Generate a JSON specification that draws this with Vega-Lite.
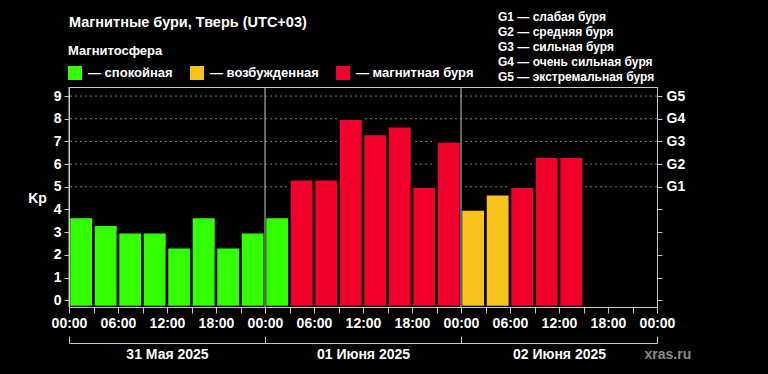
{
  "$schema": "https://vega.github.io/schema/vega-lite/v6.json",
  "width": 588,
  "height": 220,
  "autosize": {"type": "none"},
  "padding": {"left": 69, "top": 87, "right": 111, "bottom": 67},
  "background": "#000000",
  "title": {
    "text": "Магнитные бури, Тверь (UTC+03)",
    "anchor": "start",
    "frame": "group",
    "baseline": "middle",
    "color": "#ffffff",
    "fontSize": 14.5,
    "fontWeight": "bold",
    "font": "Liberation Sans",
    "offset": -26
  },
  "config": {
    "font": "Liberation Sans",
    "view": {"stroke": "#c8c8c8", "strokeWidth": 1}
  },
  "datasets": {
    "kp": [
      {"start": "2025-05-31T00:00:00Z", "end": "2025-05-31T03:00:00Z", "kp": 3.67, "state": "спокойная"},
      {"start": "2025-05-31T03:00:00Z", "end": "2025-05-31T06:00:00Z", "kp": 3.33, "state": "спокойная"},
      {"start": "2025-05-31T06:00:00Z", "end": "2025-05-31T09:00:00Z", "kp": 3.0, "state": "спокойная"},
      {"start": "2025-05-31T09:00:00Z", "end": "2025-05-31T12:00:00Z", "kp": 3.0, "state": "спокойная"},
      {"start": "2025-05-31T12:00:00Z", "end": "2025-05-31T15:00:00Z", "kp": 2.33, "state": "спокойная"},
      {"start": "2025-05-31T15:00:00Z", "end": "2025-05-31T18:00:00Z", "kp": 3.67, "state": "спокойная"},
      {"start": "2025-05-31T18:00:00Z", "end": "2025-05-31T21:00:00Z", "kp": 2.33, "state": "спокойная"},
      {"start": "2025-05-31T21:00:00Z", "end": "2025-06-01T00:00:00Z", "kp": 3.0, "state": "спокойная"},
      {"start": "2025-06-01T00:00:00Z", "end": "2025-06-01T03:00:00Z", "kp": 3.67, "state": "спокойная"},
      {"start": "2025-06-01T03:00:00Z", "end": "2025-06-01T06:00:00Z", "kp": 5.33, "state": "магнитная буря"},
      {"start": "2025-06-01T06:00:00Z", "end": "2025-06-01T09:00:00Z", "kp": 5.33, "state": "магнитная буря"},
      {"start": "2025-06-01T09:00:00Z", "end": "2025-06-01T12:00:00Z", "kp": 8.0, "state": "магнитная буря"},
      {"start": "2025-06-01T12:00:00Z", "end": "2025-06-01T15:00:00Z", "kp": 7.33, "state": "магнитная буря"},
      {"start": "2025-06-01T15:00:00Z", "end": "2025-06-01T18:00:00Z", "kp": 7.67, "state": "магнитная буря"},
      {"start": "2025-06-01T18:00:00Z", "end": "2025-06-01T21:00:00Z", "kp": 5.0, "state": "магнитная буря"},
      {"start": "2025-06-01T21:00:00Z", "end": "2025-06-02T00:00:00Z", "kp": 7.0, "state": "магнитная буря"},
      {"start": "2025-06-02T00:00:00Z", "end": "2025-06-02T03:00:00Z", "kp": 4.0, "state": "возбужденная"},
      {"start": "2025-06-02T03:00:00Z", "end": "2025-06-02T06:00:00Z", "kp": 4.67, "state": "возбужденная"},
      {"start": "2025-06-02T06:00:00Z", "end": "2025-06-02T09:00:00Z", "kp": 5.0, "state": "магнитная буря"},
      {"start": "2025-06-02T09:00:00Z", "end": "2025-06-02T12:00:00Z", "kp": 6.33, "state": "магнитная буря"},
      {"start": "2025-06-02T12:00:00Z", "end": "2025-06-02T15:00:00Z", "kp": 6.33, "state": "магнитная буря"}
    ],
    "levels": [
      {"kp": 5, "label": "G1 — слабая буря"},
      {"kp": 6, "label": "G2 — средняя буря"},
      {"kp": 7, "label": "G3 — сильная буря"},
      {"kp": 8, "label": "G4 — очень сильная буря"},
      {"kp": 9, "label": "G5 — экстремальная буря"}
    ],
    "days": [
      {"start": "2025-05-31T00:00:00Z", "day": "31 Мая 2025"},
      {"start": "2025-06-01T00:00:00Z", "day": "01 Июня 2025"},
      {"start": "2025-06-02T00:00:00Z", "day": "02 Июня 2025"}
    ]
  },
  "layer": [
    {
      "data": {"name": "levels"},
      "mark": {"type": "rule", "color": "#7a7a7a", "strokeWidth": 1},
      "encoding": {
        "y": {
          "field": "kp",
          "type": "quantitative",
          "scale": {"domain": [-0.3, 9.4], "nice": false, "zero": false},
          "axis": {
            "orient": "right",
            "values": [0, 1, 2, 3, 4, 5, 6, 7, 8, 9],
            "labelExpr": "datum.value >= 5 ? 'G' + (datum.value - 4) : ''",
            "grid": false,
            "title": null,
            "tickSize": 5,
            "labelPadding": 4,
            "labelColor": "#ffffff",
            "labelFontSize": 14,
            "labelFontWeight": "bold",
            "domainColor": "#c8c8c8",
            "tickColor": "#c8c8c8",
            "zindex": 1
          }
        },
        "strokeDash": {
          "field": "label",
          "type": "nominal",
          "scale": {"range": [[2, 3], [2, 3], [2, 3], [2, 3], [2, 3]]},
          "legend": {
            "orient": "none",
            "legendX": 417,
            "legendY": -76,
            "direction": "vertical",
            "title": null,
            "symbolOpacity": 0,
            "symbolSize": 4,
            "labelOffset": 0,
            "labelColor": "#ffffff",
            "labelFontSize": 12,
            "labelFontWeight": "bold",
            "labelLimit": 300,
            "rowPadding": 3
          }
        }
      }
    },
    {
      "data": {"name": "kp"},
      "mark": {"type": "bar", "stroke": "#000000", "strokeWidth": 2.5},
      "encoding": {
        "x": {
          "field": "start",
          "type": "temporal",
          "scale": {
            "type": "utc",
            "domain": [
              {"year": 2025, "month": 5, "date": 31, "utc": true},
              {"year": 2025, "month": 6, "date": 3, "utc": true}
            ]
          },
          "axis": {
            "orient": "bottom",
            "values": [
              {"year": 2025, "month": 5, "date": 31, "hours": 0, "utc": true},
              {"year": 2025, "month": 5, "date": 31, "hours": 3, "utc": true},
              {"year": 2025, "month": 5, "date": 31, "hours": 6, "utc": true},
              {"year": 2025, "month": 5, "date": 31, "hours": 9, "utc": true},
              {"year": 2025, "month": 5, "date": 31, "hours": 12, "utc": true},
              {"year": 2025, "month": 5, "date": 31, "hours": 15, "utc": true},
              {"year": 2025, "month": 5, "date": 31, "hours": 18, "utc": true},
              {"year": 2025, "month": 5, "date": 31, "hours": 21, "utc": true},
              {"year": 2025, "month": 6, "date": 1, "hours": 0, "utc": true},
              {"year": 2025, "month": 6, "date": 1, "hours": 3, "utc": true},
              {"year": 2025, "month": 6, "date": 1, "hours": 6, "utc": true},
              {"year": 2025, "month": 6, "date": 1, "hours": 9, "utc": true},
              {"year": 2025, "month": 6, "date": 1, "hours": 12, "utc": true},
              {"year": 2025, "month": 6, "date": 1, "hours": 15, "utc": true},
              {"year": 2025, "month": 6, "date": 1, "hours": 18, "utc": true},
              {"year": 2025, "month": 6, "date": 1, "hours": 21, "utc": true},
              {"year": 2025, "month": 6, "date": 2, "hours": 0, "utc": true},
              {"year": 2025, "month": 6, "date": 2, "hours": 3, "utc": true},
              {"year": 2025, "month": 6, "date": 2, "hours": 6, "utc": true},
              {"year": 2025, "month": 6, "date": 2, "hours": 9, "utc": true},
              {"year": 2025, "month": 6, "date": 2, "hours": 12, "utc": true},
              {"year": 2025, "month": 6, "date": 2, "hours": 15, "utc": true},
              {"year": 2025, "month": 6, "date": 2, "hours": 18, "utc": true},
              {"year": 2025, "month": 6, "date": 2, "hours": 21, "utc": true},
              {"year": 2025, "month": 6, "date": 3, "hours": 0, "utc": true}
            ],
            "labelExpr": "utchours(datum.value) % 6 == 0 ? utcFormat(datum.value, '%H:%M') : ''",
            "labelFlush": false,
            "labelOverlap": false,
            "tickSize": 6,
            "labelPadding": 3,
            "labelColor": "#ffffff",
            "labelFontSize": 14,
            "labelFontWeight": "bold",
            "domainColor": "#c8c8c8",
            "tickColor": "#c8c8c8",
            "grid": false,
            "title": null,
            "zindex": 1
          }
        },
        "x2": {"field": "end"},
        "y": {
          "field": "kp",
          "type": "quantitative",
          "scale": {"domain": [-0.3, 9.4], "nice": false, "zero": false},
          "axis": {
            "orient": "left",
            "values": [0, 1, 2, 3, 4, 5, 6, 7, 8, 9],
            "title": "Kp",
            "titleAngle": 0,
            "titleX": -32,
            "titleY": 111,
            "titleAlign": "center",
            "titleBaseline": "middle",
            "titleColor": "#ffffff",
            "titleFontSize": 14,
            "titleFontWeight": "bold",
            "labelColor": "#ffffff",
            "labelFontSize": 14,
            "labelFontWeight": "bold",
            "tickSize": 5,
            "labelPadding": 3,
            "grid": false,
            "domainColor": "#c8c8c8",
            "tickColor": "#c8c8c8",
            "zindex": 1
          }
        },
        "y2": {"datum": -0.3},
        "color": {
          "field": "state",
          "type": "nominal",
          "scale": {
            "domain": ["спокойная", "возбужденная", "магнитная буря"],
            "range": ["#33ff00", "#f7c21b", "#f0002a"]
          },
          "legend": {
            "orient": "none",
            "legendX": -1,
            "legendY": -42,
            "direction": "horizontal",
            "title": "Магнитосфера",
            "titleColor": "#ffffff",
            "titleFontSize": 13,
            "titleFontWeight": "bold",
            "titlePadding": 8,
            "symbolType": "square",
            "symbolSize": 196,
            "symbolStrokeWidth": 0,
            "symbolOpacity": 1,
            "labelExpr": "'— ' + datum.label",
            "labelColor": "#ffffff",
            "labelFontSize": 13,
            "labelFontWeight": "bold",
            "labelOffset": 6,
            "columnPadding": 17
          }
        }
      }
    },
    {
      "data": {"name": "days"},
      "mark": {"type": "rule", "color": "#c8c8c8", "strokeWidth": 1},
      "encoding": {
        "x": {
          "field": "start",
          "type": "temporal",
          "axis": {
            "orient": "bottom",
            "offset": 36,
            "values": [
              {"year": 2025, "month": 5, "date": 31, "utc": true},
              {"year": 2025, "month": 6, "date": 1, "utc": true},
              {"year": 2025, "month": 6, "date": 2, "utc": true},
              {"year": 2025, "month": 6, "date": 3, "utc": true}
            ],
            "tickSize": -7,
            "labelExpr": "utcmonth(datum.value) == 5 && utcdate(datum.value) == 3 ? '' : utcFormat(datum.value, '%d') + (utcmonth(datum.value) == 4 ? ' Мая ' : ' Июня ') + '2025'",
            "labelOffset": 98,
            "labelPadding": 11,
            "labelFlush": false,
            "labelOverlap": false,
            "labelBound": false,
            "labelColor": "#ffffff",
            "labelFontSize": 14,
            "labelFontWeight": "bold",
            "domainColor": "#c8c8c8",
            "tickColor": "#c8c8c8",
            "grid": false,
            "title": "xras.ru",
            "titleColor": "#8c8c8c",
            "titleFontSize": 14,
            "titleFontWeight": "bold",
            "titleX": 575,
            "titleY": 11,
            "titleAlign": "left",
            "titleBaseline": "middle",
            "zindex": 1
          }
        }
      }
    }
  ],
  "resolve": {"axis": {"x": "independent", "y": "independent"}}
}
